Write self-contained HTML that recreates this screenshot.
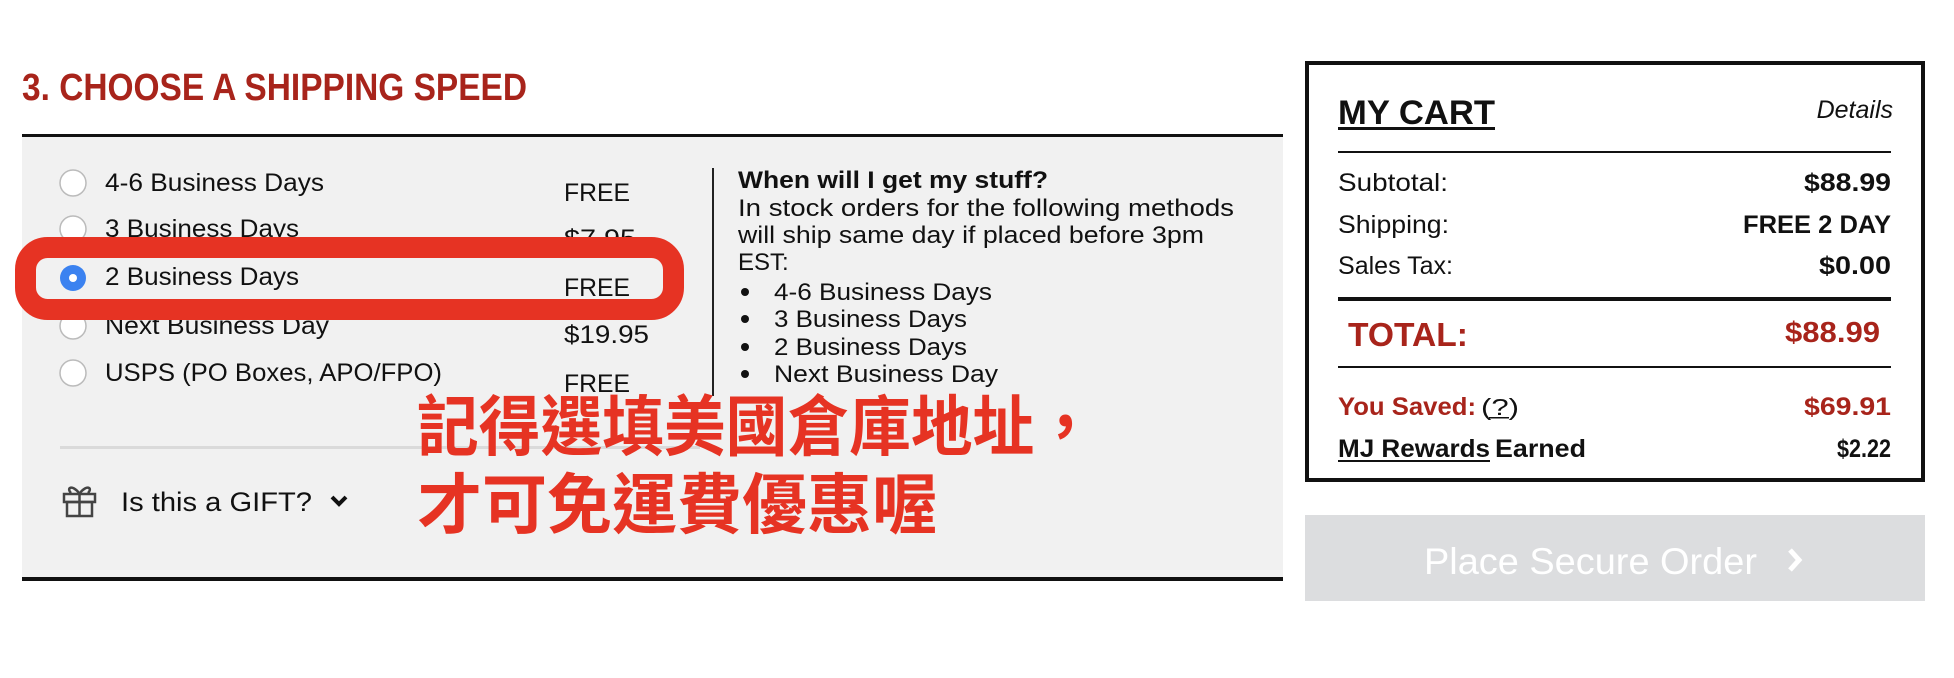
<!DOCTYPE html>
<html><head><meta charset="utf-8"><style>html,body{margin:0;padding:0;background:#fff;}svg{display:block}</style></head>
<body>
<svg width="1954" height="678" viewBox="0 0 1954 678" xmlns="http://www.w3.org/2000/svg" font-family="'Liberation Sans', sans-serif">
<rect width="1954" height="678" fill="#fff"/>
<text x="22" y="100" font-size="38" font-weight="bold" fill="#a8241b" textLength="505" lengthAdjust="spacingAndGlyphs">3. CHOOSE A SHIPPING SPEED</text>
<rect x="22" y="137" width="1261" height="442" fill="#f1f1f1"/>
<rect x="22" y="134" width="1261" height="3" fill="#111"/>
<rect x="22" y="577" width="1261" height="4" fill="#111"/>
<g fill="#fff" stroke="#bbb" stroke-width="1.5">
<circle cx="73" cy="183" r="13"/><circle cx="73" cy="229" r="13"/><circle cx="73" cy="326" r="13"/><circle cx="73" cy="373" r="13"/>
</g>
<circle cx="73" cy="278" r="13" fill="#3b82f0"/><circle cx="73" cy="278" r="4" fill="#fff"/>
<g font-size="25" fill="#111">
<text x="105" y="191" textLength="219" lengthAdjust="spacingAndGlyphs">4-6 Business Days</text>
<text x="105" y="237" textLength="194" lengthAdjust="spacingAndGlyphs">3 Business Days</text>
<text x="105" y="285" textLength="194" lengthAdjust="spacingAndGlyphs">2 Business Days</text>
<text x="105" y="334" textLength="224" lengthAdjust="spacingAndGlyphs">Next Business Day</text>
<text x="105" y="381" textLength="337" lengthAdjust="spacingAndGlyphs">USPS (PO Boxes, APO/FPO)</text>
<text x="564" y="201" textLength="66" lengthAdjust="spacingAndGlyphs">FREE</text>
<text x="564" y="247" textLength="72" lengthAdjust="spacingAndGlyphs">$7.95</text>
<text x="564" y="296" textLength="66" lengthAdjust="spacingAndGlyphs">FREE</text>
<text x="564" y="343" textLength="85" lengthAdjust="spacingAndGlyphs">$19.95</text>
<text x="564" y="392" textLength="66" lengthAdjust="spacingAndGlyphs">FREE</text>
</g>
<rect x="712" y="168" width="2" height="228" fill="#222"/>
<g font-size="24" fill="#111">
<text x="738" y="188" font-weight="bold" textLength="310" lengthAdjust="spacingAndGlyphs">When will I get my stuff?</text>
<text x="738" y="216" textLength="496" lengthAdjust="spacingAndGlyphs">In stock orders for the following methods</text>
<text x="738" y="243" textLength="466" lengthAdjust="spacingAndGlyphs">will ship same day if placed before 3pm</text>
<text x="738" y="270">EST:</text>
<circle cx="745" cy="292" r="4"/><circle cx="745" cy="319" r="4"/><circle cx="745" cy="347" r="4"/><circle cx="745" cy="374" r="4"/>
<text x="774" y="300" textLength="218" lengthAdjust="spacingAndGlyphs">4-6 Business Days</text>
<text x="774" y="327" textLength="193" lengthAdjust="spacingAndGlyphs">3 Business Days</text>
<text x="774" y="355" textLength="193" lengthAdjust="spacingAndGlyphs">2 Business Days</text>
<text x="774" y="382" textLength="224" lengthAdjust="spacingAndGlyphs">Next Business Day</text>
</g>
<rect x="60" y="446" width="640" height="3" fill="#dadada"/>
<g fill="none" stroke="#444" stroke-width="2.5">
<rect x="64" y="494" width="31" height="8"/><rect x="67" y="502" width="25" height="14"/>
<line x1="79.5" y1="494" x2="79.5" y2="516"/>
<path d="M79 493 C72 484 66 488 71 493 M80 493 C87 484 93 488 88 493"/>
</g>
<text x="121" y="511" font-size="27" fill="#111" textLength="191" lengthAdjust="spacingAndGlyphs">Is this a GIFT?</text>
<path d="M332 497 L339 504 L346 497" fill="none" stroke="#111" stroke-width="4"/>
<rect x="25.5" y="247.5" width="648" height="62" rx="22" fill="none" stroke="#e63323" stroke-width="21"/>
<g font-family="'Liberation Sans','Noto Sans CJK TC',sans-serif" font-weight="bold" fill="#e63323" font-size="66">
<text x="417" y="450" textLength="679" lengthAdjust="spacingAndGlyphs">記得選填美國倉庫地址，</text>
<text x="417" y="528" textLength="520" lengthAdjust="spacingAndGlyphs">才可免運費優惠喔</text>
</g>
<rect x="1307" y="63" width="616" height="417" fill="#fff" stroke="#111" stroke-width="4"/>
<text x="1338" y="124" font-size="34" font-weight="bold" fill="#111" textLength="157" lengthAdjust="spacingAndGlyphs">MY CART</text>
<rect x="1338" y="127" width="157" height="3" fill="#111"/>
<text x="1893" y="118" font-size="25" font-style="italic" fill="#111" text-anchor="end">Details</text>
<rect x="1338" y="151" width="553" height="2" fill="#111"/>
<g font-size="25" fill="#111">
<text x="1338" y="191" textLength="110" lengthAdjust="spacingAndGlyphs">Subtotal:</text>
<text x="1338" y="233" textLength="111" lengthAdjust="spacingAndGlyphs">Shipping:</text>
<text x="1338" y="274" textLength="115" lengthAdjust="spacingAndGlyphs">Sales Tax:</text>
</g>
<g font-size="25" font-weight="bold" fill="#111">
<text x="1804" y="191" textLength="87" lengthAdjust="spacingAndGlyphs">$88.99</text>
<text x="1743" y="233" textLength="148" lengthAdjust="spacingAndGlyphs">FREE 2 DAY</text>
<text x="1819" y="274" textLength="72" lengthAdjust="spacingAndGlyphs">$0.00</text>
</g>
<rect x="1338" y="297" width="553" height="4" fill="#111"/>
<text x="1348" y="346" font-size="33" font-weight="bold" fill="#a8241b" textLength="120" lengthAdjust="spacingAndGlyphs">TOTAL:</text>
<text x="1785" y="342" font-size="29" font-weight="bold" fill="#a8241b" textLength="95" lengthAdjust="spacingAndGlyphs">$88.99</text>
<rect x="1338" y="366" width="553" height="2" fill="#111"/>
<text x="1338" y="415" font-size="25" font-weight="bold" fill="#a8241b" textLength="138" lengthAdjust="spacingAndGlyphs">You Saved:</text>
<text x="1481" y="415" font-size="23" fill="#111" textLength="38" lengthAdjust="spacingAndGlyphs">(?)</text>
<rect x="1489" y="417" width="20" height="1.5" fill="#111"/>
<text x="1804" y="415" font-size="25" font-weight="bold" fill="#a8241b" textLength="87" lengthAdjust="spacingAndGlyphs">$69.91</text>
<text x="1338" y="457" font-size="25" font-weight="bold" fill="#111" textLength="152" lengthAdjust="spacingAndGlyphs">MJ Rewards</text>
<rect x="1338" y="460" width="152" height="2" fill="#111"/>
<text x="1495" y="457" font-size="25" font-weight="bold" fill="#111" textLength="91" lengthAdjust="spacingAndGlyphs">Earned</text>
<text x="1837" y="457" font-size="25" font-weight="bold" fill="#111" textLength="54" lengthAdjust="spacingAndGlyphs">$2.22</text>
<rect x="1305" y="515" width="620" height="86" fill="#dcdddf"/>
<text x="1424" y="574" font-size="37" fill="#fff" textLength="333" lengthAdjust="spacingAndGlyphs">Place Secure Order</text>
<path d="M1790 550 L1799 560 L1790 570" fill="none" stroke="#fff" stroke-width="5"/>
</svg>
</body></html>
